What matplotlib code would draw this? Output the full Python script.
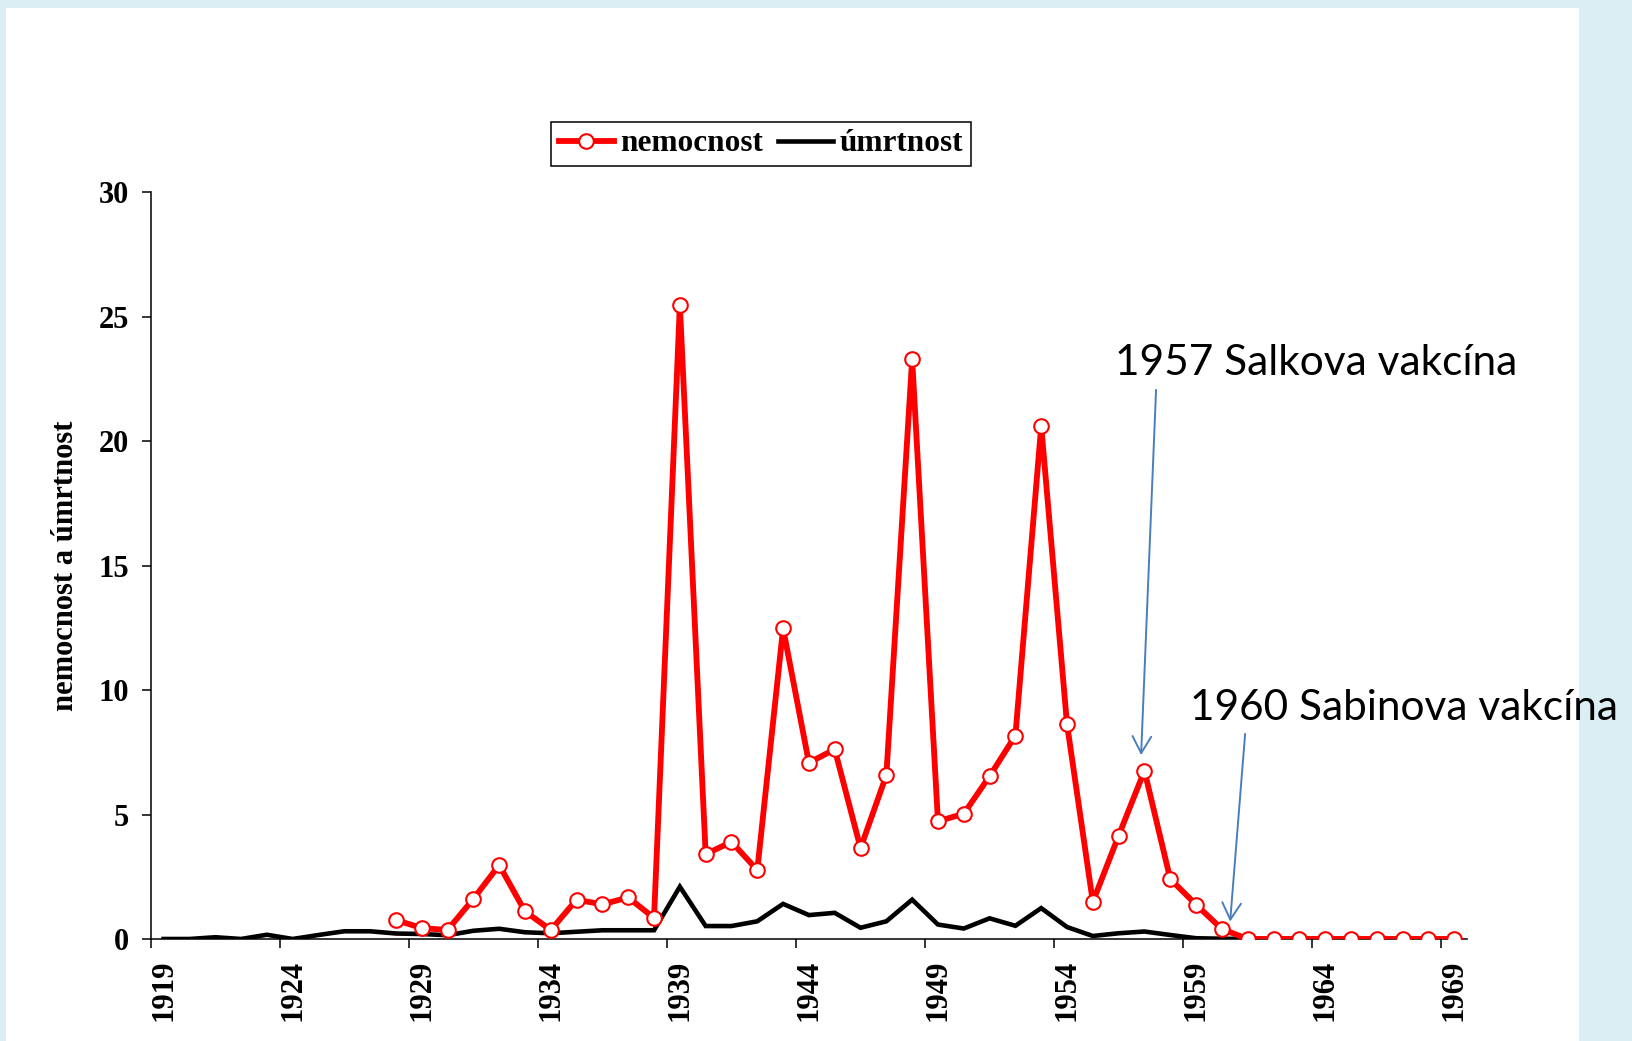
import numpy as np
import matplotlib.pyplot as plt
from matplotlib.patches import Rectangle

nan = np.nan

# data
years = np.arange(1919, 1970)
nemocnost = [nan] * 9 + [0.76, 0.44, 0.36, 1.61, 2.97, 1.11, 0.36, 1.58, 1.39, 1.67, 0.84,
                         25.47, 3.41, 3.9, 2.77, 12.48, 7.08, 7.62, 3.65, 6.58, 23.29,
                         4.73, 5.03, 6.54, 8.17, 20.61, 8.63, 1.49, 4.15, 6.76, 2.41,
                         1.38, 0.40, 0, 0, 0, 0, 0, 0, 0, 0, 0]
umrtnost = [0, 0, 0.07, 0, 0.17, 0, 0.16, 0.31, 0.31, 0.22, 0.2, 0.15, 0.33, 0.41,
            0.27, 0.23, 0.29, 0.35, 0.35, 0.35, 2.1, 0.52, 0.52, 0.71, 1.41, 0.96,
            1.05, 0.45, 0.71, 1.58, 0.58, 0.42, 0.83, 0.53, 1.24, 0.48, 0.12, 0.23,
            0.3, 0.16, 0.03, 0.01, 0, 0, 0, 0, 0, 0, 0, 0, 0]
label_years = years[::5]

plt.rcParams['font.family'] = ['Liberation Serif', 'DejaVu Serif']
plt.rcParams['font.weight'] = 'bold'

fig = plt.figure(figsize=(16.33, 10.41), dpi=100)
fig.patch.set_facecolor('#DAEEF3')
fig.patches.append(Rectangle((6 / 1633, 0), 1573 / 1633, 1 - 8 / 1041,
                             transform=fig.transFigure, facecolor='white',
                             edgecolor='none', zorder=-10))

ax = fig.add_axes([0.0923, 0.0980, 0.8061, 0.7173])
ax.patch.set_alpha(0)

l2, = ax.plot(years, umrtnost, color='black', lw=3.3, zorder=3,
              solid_joinstyle='miter', label='úmrtnost')
l1, = ax.plot(years, nemocnost, color='red', lw=4.2, marker='o', markersize=10.5,
              markerfacecolor='white', markeredgecolor='red', markeredgewidth=1.5,
              zorder=4, label='nemocnost')

ax.set_xlim(1918.5, 1969.5)
ax.set_ylim(0, 30)
for s in ['top', 'right']:
    ax.spines[s].set_visible(False)
for s in ['left', 'bottom']:
    ax.spines[s].set_linewidth(1.1)
ax.spines['bottom'].set_zorder(2)

ax.set_yticks(np.arange(0, 31, 5))
ax.tick_params(axis='y', direction='out', length=6.5, width=1.1, labelsize=22, pad=9)
ax.set_xticks(label_years - 0.5)
ax.set_xticklabels([])
ax.tick_params(axis='x', which='major', direction='out', length=6.5, width=1.1)
ax.set_xticks(label_years, [str(y) for y in label_years], minor=True)
ax.tick_params(axis='x', which='minor', length=0, labelsize=22, pad=15, labelrotation=90)

ax.set_ylabel('nemocnost a úmrtnost', fontsize=22, fontweight='bold')
ax.yaxis.set_label_coords(-0.054, 0.5)

leg = ax.legend(handles=[l1, l2], loc='center', bbox_to_anchor=(0.466, 0.8617),
                bbox_transform=fig.transFigure, ncol=2, fontsize=22.5,
                fancybox=False, edgecolor='black', framealpha=1,
                handlelength=1.75, handletextpad=0.2, columnspacing=0.5,
                borderpad=0.25, borderaxespad=0)
leg.get_frame().set_linewidth(1.1)

arrow_c = '#4A7EBB'
astyle = dict(arrowstyle='->,head_length=0.8,head_width=0.45', color=arrow_c,
              lw=1.4, mutation_scale=15, shrinkA=0, shrinkB=0)
ax.annotate('', xy=(1956.87, 7.39), xytext=(1957.45, 22.06),
            arrowprops=astyle, annotation_clip=False)
ax.annotate('', xy=(1960.32, 0.7), xytext=(1960.9, 8.24),
            arrowprops=astyle, annotation_clip=False)

afont = dict(family=['Lato', 'DejaVu Sans'], fontweight='normal', fontsize=30.5)
ax.text(1955.86, 22.66, '1957 Salkova vakcína', va='baseline', ha='left',
        clip_on=False, **afont)
ax.text(1958.75, 8.8, '1960 Sabinova vakcína', va='baseline', ha='left',
        clip_on=False, **afont)

plt.savefig('out.png', dpi=100, facecolor=fig.get_facecolor())
